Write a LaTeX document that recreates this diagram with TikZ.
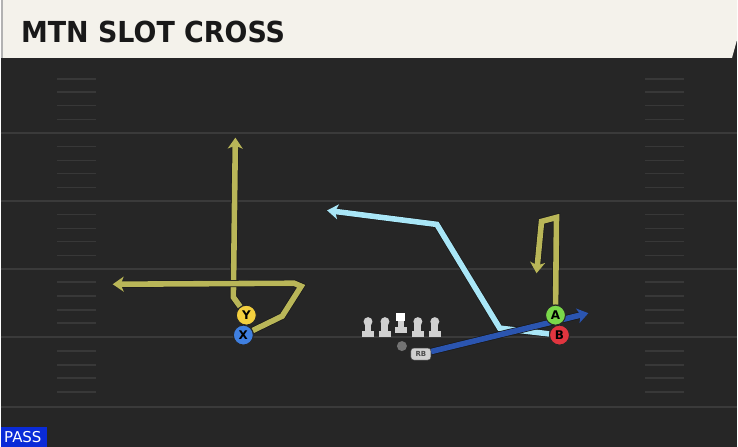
\documentclass[tikz,border=0pt]{standalone}
\usepackage{xcolor}
\usepackage{fontspec}
\setmainfont{DejaVu Sans}
\usetikzlibrary{arrows.meta}

\definecolor{field}{HTML}{262626}
\definecolor{yardline}{HTML}{3A3A3A}
\definecolor{hashline}{HTML}{383838}
\definecolor{cream}{HTML}{F4F2EB}
\definecolor{olive}{HTML}{B9B658}
\definecolor{skyroute}{HTML}{A9E6F7}
\definecolor{navyroute}{HTML}{2B55B0}
\definecolor{ylwfill}{HTML}{F3CF3E}
\definecolor{bluefill}{HTML}{3F7FE0}
\definecolor{greenfill}{HTML}{7AD84A}
\definecolor{redfill}{HTML}{E0353F}
\definecolor{linegray}{HTML}{D0D0D0}
\definecolor{passblue}{HTML}{0A2BD8}

\pgfdeclarelayer{fieldlayer}
\pgfdeclarelayer{routelayer}
\pgfsetlayers{fieldlayer,routelayer,main}

\begin{document}
\begin{tikzpicture}[x=1pt, y=-1pt,
        player/.style = {draw=black!85,
                         circle,
                         line width=1pt,
                         inner sep=0pt,
                         minimum size=20pt,
                         font=\bfseries\fontsize{12}{12}\selectfont},
        route/.style = {line width=5.6pt,
                        preaction={draw=black!90, line width=7pt},
                        -{Stealth[length=11pt, width=15pt, inset=3pt]}},
        lineman/.style = {fill=linegray}]

    % field and header
    \begin{pgfonlayer}{fieldlayer}
    \fill[field] (0,0) rectangle (738,448);
    \fill[black!85] (0,58) rectangle (738,66);
    \fill[cream] (0,0) -- (738,0) -- (738,40) -- (733,58) -- (0,58) -- cycle;
    \fill[black!30] (0,0) rectangle (2,58);
    \foreach \y in {133,202,270,338,408}
        \draw[yardline, line width=2pt] (0,\y) -- (738,\y);
    \foreach \y in {79,92,106,120,147,161,174,188,215,229,242,256,283,297,311,324,352,366,379,393} {
        \draw[hashline, line width=1.5pt] (56,\y) -- (95,\y);
        \draw[hashline, line width=1.5pt] (646,\y) -- (685,\y);
    }
    \end{pgfonlayer}
    \node (title) [anchor=base west, xscale=0.93, font=\bfseries\fontsize{29}{29}\selectfont,
                   text=black!90, inner sep=0pt] at (20,43) {MTN SLOT CROSS};

    % players
    \node (Y) [player, fill=ylwfill] at (246,316) {Y};
    \node (X) [player, fill=bluefill] at (243,336) {X};
    \node (A) [player, fill=greenfill] at (556,316) {A};
    \node (B) [player, fill=redfill] at (560,336) {B};
    \node (QB) [circle, fill=black!55, minimum size=10pt, inner sep=0pt] at (402,347) {};
    \node (RB) [draw=black!70, fill=linegray, rounded corners=3pt, minimum width=20pt,
                minimum height=12pt, inner sep=0pt, font=\bfseries\fontsize{7}{7}\selectfont,
                text=black!70] at (421,355) {RB};

    % route ends
    \coordinate (yEnd) at (235,138);
    \coordinate (xEnd) at (112,285);
    \coordinate (aEnd) at (537,274);
    \coordinate (bEnd) at (327,211);
    \coordinate (rbEnd) at (589,314);

    % routes
    \begin{pgfonlayer}{routelayer}
    \draw[route, olive] (Y) -- (233,298) -- (yEnd);
    \draw[route, olive] (X) -- (282,317) -- (301,287) -- (294,284) -- (xEnd);
    \draw[route, olive] (A) -- (557,218) -- (542,222) -- (aEnd);
    \draw[route, skyroute] (B) -- (500,329) -- (437,225) -- (bEnd);
    \draw[route, navyroute] (RB) -- (rbEnd);
    \end{pgfonlayer}

    % offensive line
    \foreach \x in {368,385,418,435} {
        \fill[lineman] (\x-6,332) rectangle (\x+6,338);
        \fill[lineman] (\x-3.5,324) rectangle (\x+3.5,334);
        \fill[lineman] (\x,322.5) circle (4.5);
    }
    \fill[lineman] (395,328) rectangle (407,333.5);
    \fill[lineman] (398,321) rectangle (404,330);
    \fill[white] (396.5,313.5) rectangle (405.5,322);

    % play type
    \fill[passblue] (0,428) rectangle (46,448);
    \node (pass) [text=white, font=\fontsize{15}{15}\selectfont, inner sep=0pt,
                  anchor=base west] at (3,444) {PASS};

    \useasboundingbox (0,0) rectangle (738,448);
\end{tikzpicture}
\end{document}
